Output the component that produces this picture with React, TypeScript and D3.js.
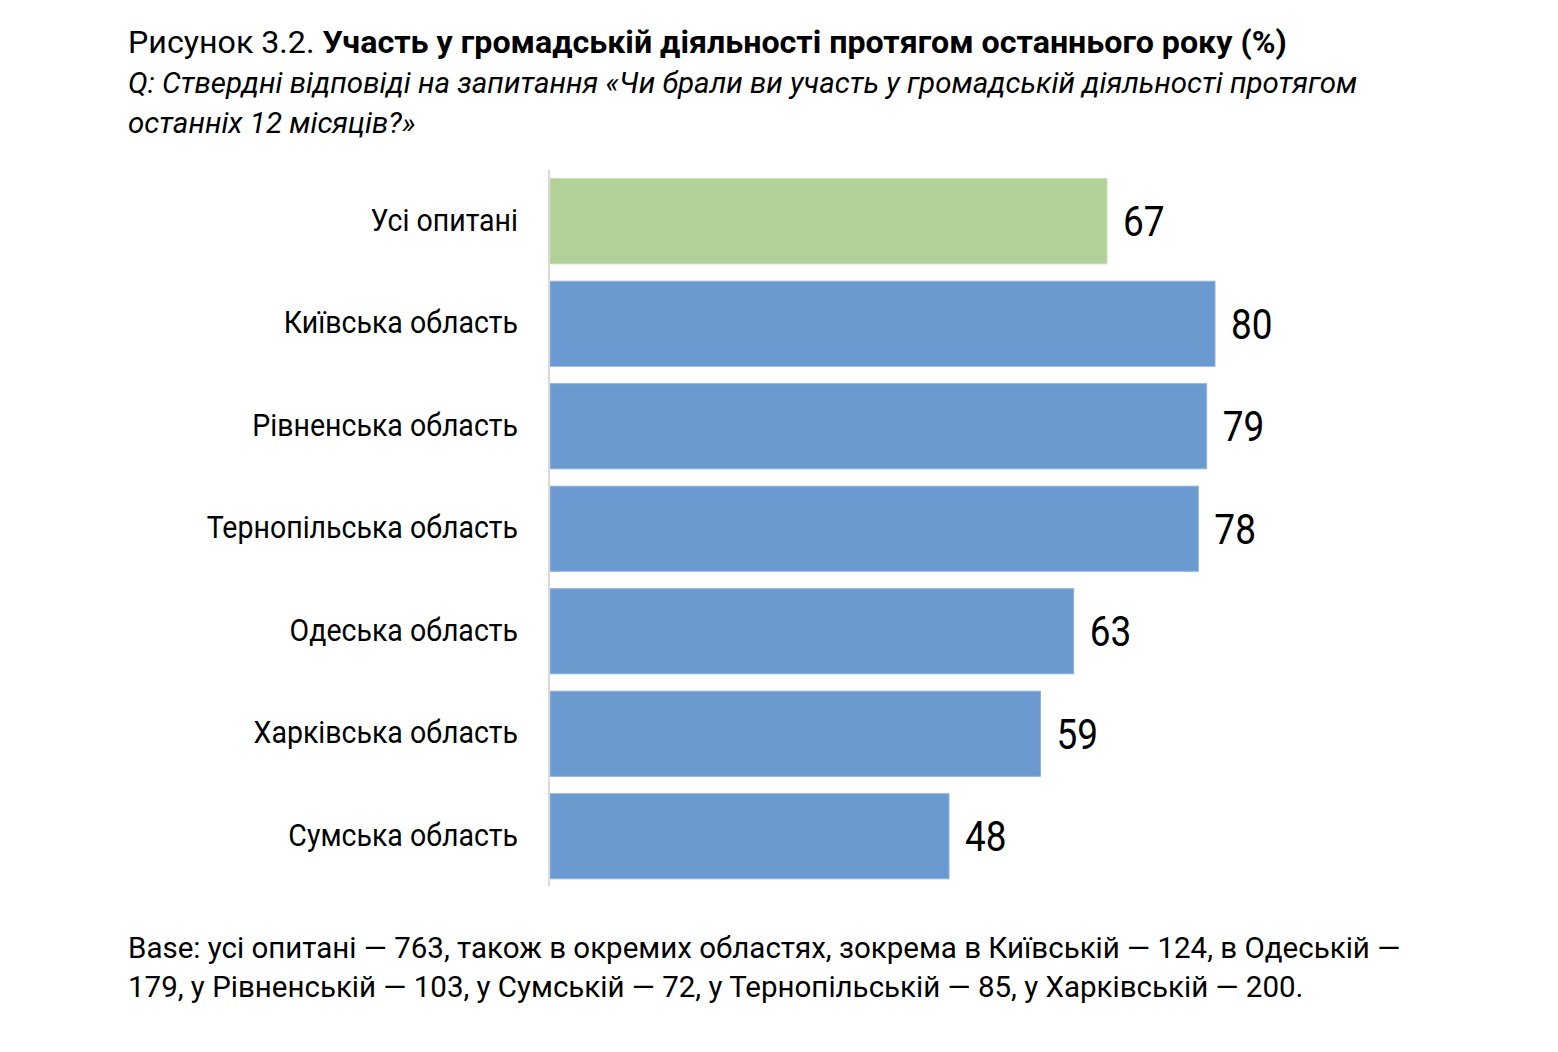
import React from "react";
import * as d3 from "d3";

const categories = [
  "Усі опитані",
  "Київська область",
  "Рівненська область",
  "Тернопільська область",
  "Одеська область",
  "Харківська область",
  "Сумська область",
];
const values = [67, 80, 79, 78, 63, 59, 48];
const highlight = ["Усі опитані"];

const titlePrefix = "Рисунок 3.2. ";
const titleBold = "Участь у громадській діяльності протягом останнього року (%)";
const subtitleLines = [
  "Q: Ствердні відповіді на запитання «Чи брали ви участь у громадській діяльності протягом",
  "останніх 12 місяців?»",
];
const footerLines = [
  "Base: усі опитані — 763, також в окремих областях, зокрема в Київській — 124, в Одеській —",
  "179, у Рівненській — 103, у Сумській — 72, у Тернопільській — 85, у Харківській — 200.",
];

const W = 1558;
const H = 1052;
const x0 = 550;
const x = d3.scaleLinear().domain([0, 80]).range([x0, 1215]);
const y = d3.scaleBand().domain(categories).range([170, 887.5]).paddingInner(0.17).paddingOuter(0.085);

const font = "Roboto, sans-serif";

export default function App() {
  return (
    <svg width={W} height={H} style={{ position: "absolute", left: 0, top: 0, background: "#fff" }}>
      <text x={128} y={53} fontFamily={font} fontSize={32.2} fill="#000">
        <tspan>{titlePrefix}</tspan>
        <tspan fontWeight="bold">{titleBold}</tspan>
      </text>
      {subtitleLines.map((l, i) => (
        <text key={i} x={128} y={93 + i * 40} fontFamily={font} fontStyle="italic" fontSize={29.5} fill="#000">
          {l}
        </text>
      ))}
      {categories.map((c, i) => {
        const yy = y(c)!;
        const bh = y.bandwidth();
        const fill = highlight.includes(c) ? "#b2d198" : "#6a9ad0";
        const stroke = highlight.includes(c) ? "#c4dcae" : "#8db2dc";
        const vx = x(values[i]) + 16;
        return (
          <g key={c}>
            <rect x={x(0)} y={yy} width={x(values[i]) - x(0)} height={bh} fill={fill} stroke={stroke} strokeWidth={1} />
            <text
              x={518}
              y={yy + bh / 2 - 1.5}
              dy="0.35em"
              textAnchor="end"
              fontFamily={font}
              fontSize={31}
              fill="#000"
              transform={`translate(518,0) scale(0.92,1) translate(-518,0)`}
            >
              {c}
            </text>
            <text
              x={vx}
              y={yy + bh / 2}
              dy="0.35em"
              fontFamily={font}
              fontSize={43}
              fill="#000"
              transform={`translate(${vx},0) scale(0.86,1) translate(${-vx},0)`}
            >
              {values[i]}
            </text>
          </g>
        );
      })}
      <line x1={x0 - 1} x2={x0 - 1} y1={170} y2={886} stroke="#d9d9d9" strokeWidth={2} />
      {footerLines.map((l, i) => (
        <text key={i} x={128} y={958 + i * 39} fontFamily={font} fontSize={29.5} fill="#000">
          {l}
        </text>
      ))}
    </svg>
  );
}
